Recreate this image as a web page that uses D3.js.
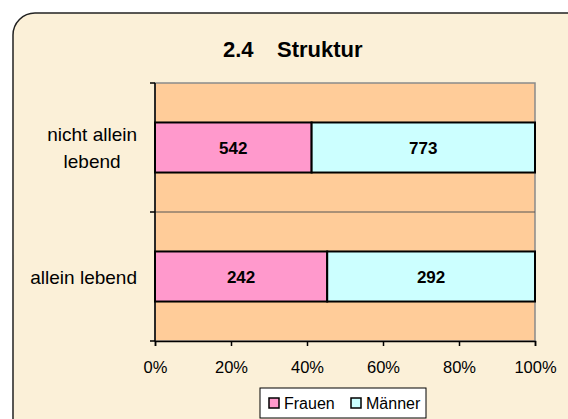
<!DOCTYPE html>
<html>
<head>
<meta charset="utf-8">
<script src="https://cdn.jsdelivr.net/npm/d3@7"></script>
<style>
  html, body { margin: 0; padding: 0; background: #fff; }
  text { font-family: Arial, "Liberation Sans", sans-serif; }
</style>
</head>
<body>
<div id="chart"></div>
<script>
const categories = ["nicht allein lebend", "allein lebend"];
const categoryLines = [["nicht allein", "lebend"], ["allein lebend"]];
const frauen = [542, 242];
const maenner = [773, 292];
const seriesNames = ["Frauen", "Männer"];
const tickValues = [0, 0.2, 0.4, 0.6, 0.8, 1];
const titleParts = ["2.4", "Struktur"];

const width = 568, height = 419;
const plot = {left: 155, right: 535, top: 83, bottom: 341};
const colors = {Frauen: "#ff99cc", "Männer": "#ccffff"};

const svg = d3.select("#chart").append("svg")
  .attr("width", width)
  .attr("height", height);

// parchment frame
svg.append("rect")
  .attr("x", 13).attr("y", 13)
  .attr("width", 575).attr("height", 430)
  .attr("rx", 22).attr("ry", 22)
  .attr("fill", "#fbf0d8")
  .attr("stroke", "#222")
  .attr("stroke-width", 1.5);

// title, two parts with a wide gap
const titleX = [223, 277];
svg.append("g").selectAll("text")
  .data(titleParts)
  .join("text")
  .attr("x", (d, i) => titleX[i]).attr("y", 57)
  .style("font-size", "22px")
  .style("font-weight", "bold")
  .text(d => d);

const rows = categories.map((c, i) => ({cat: c, Frauen: frauen[i], "Männer": maenner[i]}));
const stacked = d3.stack().keys(seriesNames).offset(d3.stackOffsetExpand)(rows);

const x = d3.scaleLinear().domain([0, 1]).range([plot.left, plot.right]);
const y = d3.scaleBand().domain(categories).range([plot.top, plot.bottom])
  .paddingInner(0.612).paddingOuter(0.306);

// plot area
svg.append("rect")
  .attr("x", plot.left).attr("y", plot.top)
  .attr("width", plot.right - plot.left).attr("height", plot.bottom - plot.top)
  .attr("fill", "#ffcc99")
  .attr("stroke", "#8a8a8a")
  .attr("stroke-width", 1.5);

// gridline between categories
svg.append("line")
  .attr("x1", plot.left).attr("x2", plot.right)
  .attr("y1", y.step() + plot.top).attr("y2", y.step() + plot.top)
  .attr("stroke", "#555").attr("stroke-width", 1);

// bars
svg.append("g").selectAll("g")
  .data(stacked)
  .join("g")
  .attr("fill", d => colors[d.key])
  .selectAll("rect")
  .data(d => d)
  .join("rect")
  .attr("x", d => x(d[0]))
  .attr("y", d => y(d.data.cat))
  .attr("width", d => x(d[1]) - x(d[0]))
  .attr("height", y.bandwidth())
  .attr("stroke", "#000")
  .attr("stroke-width", 2);

// value labels
svg.append("g").selectAll("g")
  .data(stacked)
  .join("g")
  .selectAll("text")
  .data(d => d.map(v => ({v: v, key: d.key})))
  .join("text")
  .attr("x", d => (x(d.v[0]) + x(d.v[1])) / 2)
  .attr("y", d => y(d.v.data.cat) + y.bandwidth() / 2 + 6)
  .attr("text-anchor", "middle")
  .style("font-size", "17px")
  .style("font-weight", "bold")
  .text(d => d.v.data[d.key]);

// x axis
const xAxis = svg.append("g")
  .attr("transform", "translate(0," + plot.bottom + ")")
  .call(d3.axisBottom(x).tickValues(tickValues).tickFormat(d3.format(".0%")).tickSize(5).tickPadding(15));
xAxis.select(".domain").attr("stroke", "#000").attr("stroke-width", 1.5);
xAxis.selectAll(".tick line").attr("stroke", "#000").attr("stroke-width", 1.5);
xAxis.selectAll(".tick text").style("font-size", "16.5px").attr("fill", "#000")
  .style("font-family", "Arial, 'Liberation Sans', sans-serif");

// y axis line and ticks at category boundaries
const yBounds = [plot.top, plot.top + y.step(), plot.bottom];
svg.append("line")
  .attr("x1", plot.left).attr("x2", plot.left)
  .attr("y1", plot.top).attr("y2", plot.bottom)
  .attr("stroke", "#000").attr("stroke-width", 1.5);
svg.append("g").selectAll("line")
  .data(yBounds)
  .join("line")
  .attr("x1", plot.left - 5).attr("x2", plot.left)
  .attr("y1", d => d).attr("y2", d => d)
  .attr("stroke", "#000").attr("stroke-width", 1.5);

// category labels (right edge at 137, wrapped lines centred)
const labelRight = 137;
categories.forEach((c, i) => {
  const lines = categoryLines[i];
  const lineH = 27;
  const cy = y(c) + y.bandwidth() / 2;
  const g = svg.append("g");
  const t = g.selectAll("text")
    .data(lines)
    .join("text")
    .attr("text-anchor", "middle")
    .attr("y", (d, j) => cy + 7 + (j - (lines.length - 1) / 2) * lineH)
    .style("font-size", "19px")
    .text(d => d);
  let maxW = 0;
  t.each(function() { maxW = Math.max(maxW, this.getComputedTextLength()); });
  t.attr("x", labelRight - maxW / 2);
});

// legend
const legend = svg.append("g");
legend.append("rect")
  .attr("x", 260).attr("y", 388)
  .attr("width", 166).attr("height", 30)
  .attr("fill", "#fff").attr("stroke", "#000").attr("stroke-width", 1);
const legendX = [269, 351];
seriesNames.forEach((s, i) => {
  legend.append("rect")
    .attr("x", legendX[i]).attr("y", 398)
    .attr("width", 10).attr("height", 10)
    .attr("fill", colors[s]).attr("stroke", "#000").attr("stroke-width", 1.5);
  legend.append("text")
    .attr("x", legendX[i] + 15).attr("y", 409)
    .style("font-size", "16px")
    .text(s);
});
</script>
</body>
</html>
